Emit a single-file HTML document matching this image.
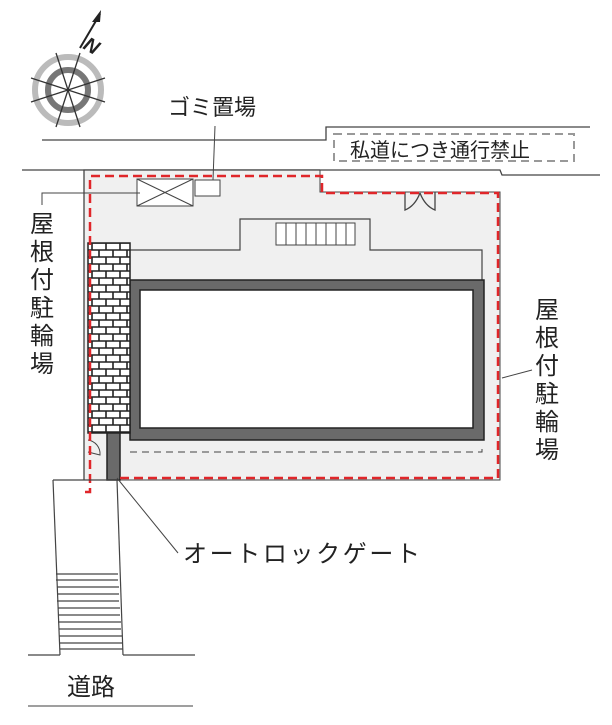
<!DOCTYPE html>
<html><head><meta charset="utf-8"><style>
html,body{margin:0;padding:0;background:#fff}
svg text{font-family:"Liberation Sans","Noto Sans CJK JP",sans-serif;fill:#222}
</style></head><body>
<svg width="612" height="720" viewBox="0 0 612 720" xmlns="http://www.w3.org/2000/svg">
<defs>
<pattern id="brick" x="88" y="243" width="28" height="14" patternUnits="userSpaceOnUse">
<rect width="28" height="14" fill="#fff"/>
<path d="M0,0H28M0,7H28M0,14H28M4,0V7M18,0V7M11,7V14M25,7V14" stroke="#222" stroke-width="1.6" fill="none"/>
</pattern>
</defs>
<!-- compass -->
<g transform="translate(68,90)">
<circle r="33" fill="none" stroke="#bbb" stroke-width="6"/>
<circle r="20" fill="none" stroke="#777" stroke-width="6"/>
<g stroke="#333" stroke-width="1.3">
<line x1="-12" y1="-37" x2="12" y2="37"/>
<line x1="12" y1="-37" x2="-12" y2="37"/>
<line x1="-37" y1="-12" x2="37" y2="12"/>
<line x1="-37" y1="12" x2="37" y2="-12"/>
</g>
</g>
<line x1="80" y1="48" x2="100" y2="14" stroke="#222" stroke-width="2"/>
<polygon points="101,10 92,22 100,22" fill="#222"/>
<text x="0" y="0" font-size="20" font-weight="bold" font-style="italic" transform="translate(82,48) rotate(30)">N</text>
<!-- roads -->
<polyline points="42,140 326,140 326,127 590,127" fill="none" stroke="#444" stroke-width="1.3"/>
<polyline points="22,170 500,170 502,175 600,175" fill="none" stroke="#444" stroke-width="1.3"/>
<!-- lot -->
<polygon points="84,170 320,170 320,192 500,192 500,480 84,480" fill="#f0f0f0" stroke="#444" stroke-width="1"/>
<polyline points="84,480 84,170 320,170" fill="none" stroke="#444" stroke-width="1.3"/>
<!-- stair house outline -->
<polyline points="130,250 240,250 240,219 370,219 370,250 482,250 482,280" fill="none" stroke="#444" stroke-width="1.2"/>
<rect x="276" y="223" width="79" height="22" fill="#fff" stroke="#444"/>
<g stroke="#444"><line x1="286" y1="223" x2="286" y2="245"/><line x1="296" y1="223" x2="296" y2="245"/><line x1="306" y1="223" x2="306" y2="245"/><line x1="316" y1="223" x2="316" y2="245"/><line x1="326" y1="223" x2="326" y2="245"/><line x1="336" y1="223" x2="336" y2="245"/><line x1="346" y1="223" x2="346" y2="245"/></g>
<!-- trash -->
<rect x="137" y="179" width="56" height="27" fill="#fff" stroke="#444"/>
<line x1="137" y1="179" x2="193" y2="206" stroke="#444"/><line x1="137" y1="206" x2="193" y2="179" stroke="#444"/>
<rect x="195" y="180" width="25" height="16" fill="#fff" stroke="#444"/>
<line x1="213" y1="180" x2="215" y2="126" stroke="#444"/>
<text x="168" y="115" font-size="22">ゴミ置場</text>
<!-- door -->
<path d="M405,192 L405,210 Q415,206 420,193 M435,192 L435,210 Q425,206 420,193" fill="none" stroke="#444" stroke-width="1.3"/>
<!-- building -->
<rect x="130" y="280" width="354" height="160" fill="#6a6a6a" stroke="#222" stroke-width="1.5"/>
<rect x="140" y="290" width="333" height="138" fill="#fff" stroke="#222" stroke-width="1.5"/>
<polyline points="130,452 482,452 482,446" fill="none" stroke="#444" stroke-dasharray="7,5"/>
<!-- brick -->
<rect x="88" y="243" width="42" height="190" fill="url(#brick)" stroke="#222" stroke-width="1.5"/>
<rect x="107" y="433" width="13" height="47" fill="#6a6a6a" stroke="#222" stroke-width="1.5"/>
<path d="M88,440 A14,14 0 0 1 100,455 L88,452" fill="none" stroke="#444"/>
<!-- red dashed -->
<polyline points="120,478 498,478 498,193 322,193 322,176 90,176 90,492 84,492" fill="none" stroke="#e0262a" stroke-width="2.5" stroke-dasharray="9,5"/>
<!-- private road label -->
<rect x="334" y="134" width="240" height="27" fill="#fff" stroke="#999" stroke-width="2" stroke-dasharray="8,5"/>
<text x="350" y="157" font-size="20">私道につき通行禁止</text>
<!-- left label -->
<polyline points="140,193 42,193 42,205" fill="none" stroke="#444"/>
<g font-size="24"><text x="30" y="232">屋</text><text x="30" y="260">根</text><text x="30" y="288">付</text><text x="30" y="316">駐</text><text x="30" y="344">輪</text><text x="30" y="372">場</text></g>
<!-- right label -->
<line x1="502" y1="378" x2="532" y2="370" stroke="#444"/>
<g font-size="24"><text x="535" y="318">屋</text><text x="535" y="346">根</text><text x="535" y="374">付</text><text x="535" y="402">駐</text><text x="535" y="430">輪</text><text x="535" y="458">場</text></g>
<!-- autolock -->
<line x1="117" y1="478" x2="178" y2="553" stroke="#444"/>
<text x="183" y="562" font-size="24" textLength="237" lengthAdjust="spacing">オートロックゲート</text>
<!-- steps -->
<g stroke="#444" fill="none" stroke-width="1.2">
<line x1="53" y1="480" x2="117" y2="480"/>
<line x1="53" y1="480" x2="60" y2="655"/>
<line x1="117" y1="480" x2="123" y2="655"/>
<line x1="28" y1="655" x2="60" y2="655"/>
<line x1="123" y1="655" x2="195" y2="655"/>
<path d="M56,574H118M56,580H118M57,587H119M57,594H119M57,601H119M58,608H120M58,615H120M58,622H121M59,629H121M59,636H122M59,643H122M60,649H123"/>
</g>
<text x="67" y="695" font-size="24">道路</text>
<line x1="28" y1="706" x2="193" y2="706" stroke="#666" stroke-width="1.3"/>
</svg>
</body></html>
